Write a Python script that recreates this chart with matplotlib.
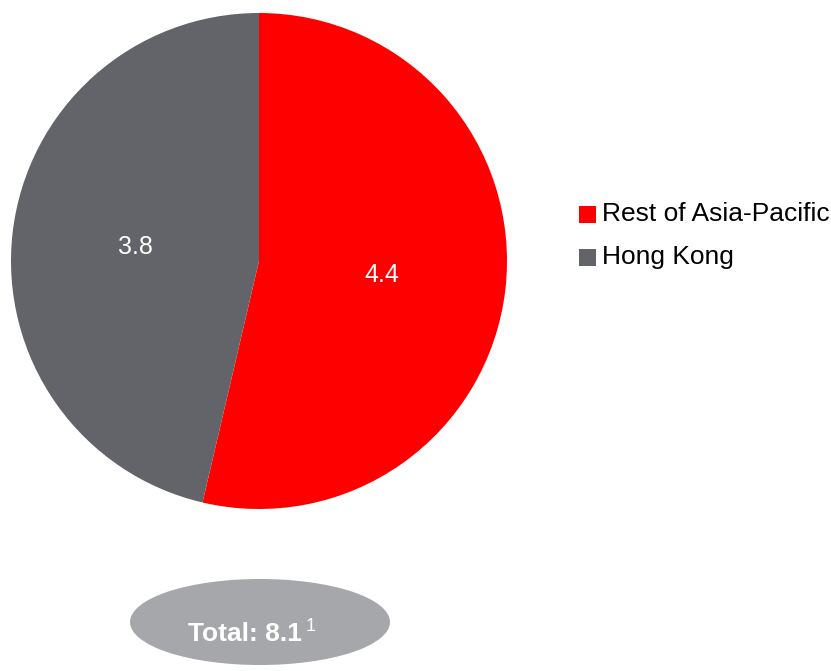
import matplotlib
matplotlib.use("Agg")
import matplotlib.pyplot as plt
from matplotlib.patches import Ellipse, Rectangle

plt.rcParams['font.family'] = ['Liberation Sans', 'DejaVu Sans']

categories = ["Rest of Asia-Pacific", "Hong Kong"]
values = [4.4, 3.8]
colors = ["#FF0000", "#636469"]
total_label = "8.1"

W, H = 831, 671
fig = plt.figure(figsize=(W / 100, H / 100), dpi=100)
ax = fig.add_axes([0, 0, 1, 1])
ax.set_xlim(0, W)
ax.set_ylim(0, H)
ax.set_aspect('equal')
ax.axis('off')

vals_iter = iter(values)
wedges, texts, autotexts = ax.pie(
    values, colors=colors, startangle=90, counterclock=False,
    center=(259, H - 261), radius=248, pctdistance=0.5,
    autopct=lambda p: f"{next(vals_iter):.1f}",
    textprops=dict(color='white', fontsize=18),
    wedgeprops=dict(linewidth=0),
)
ax.set_xlim(0, W)
ax.set_ylim(0, H)

# Legend (manual)
rows_y = [H - 214, H - 257]
for c, lab, y in zip(colors, categories, rows_y):
    ax.add_patch(Rectangle((579, y - 8.5), 17, 17, facecolor=c, edgecolor='none'))
    ax.text(602, y, lab, fontsize=19, va='center', ha='left', color='black')

# Total ellipse
ax.add_patch(Ellipse((260, H - 622), 260, 86, facecolor='#A6A7AA', edgecolor='none'))
ax.text(302, H - 641, f"Total: {total_label}", fontsize=19, fontweight='bold',
        color='white', ha='right', va='baseline')
ax.text(306, H - 631, "1", fontsize=13, color='white', ha='left', va='baseline')

fig.savefig("out.png", dpi=100)
